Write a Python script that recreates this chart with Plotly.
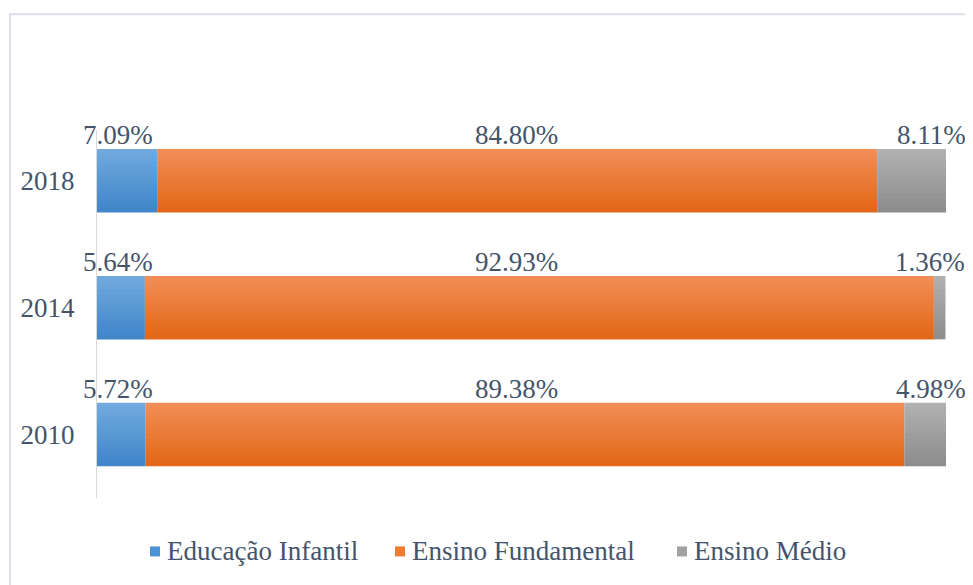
import plotly.graph_objects as go

# ---- data ----
years = ["2010", "2014", "2018"]
educacao_infantil = [5.72, 5.64, 7.09]
ensino_fundamental = [89.38, 92.93, 84.80]
ensino_medio = [4.98, 1.36, 8.11]
series_names = ["Educação Infantil", "Ensino Fundamental", "Ensino Médio"]

# gradient colours (bottom, top)
grad = {
    "Educação Infantil": ((0x40, 0x86, 0xc9), (0x70, 0xa9, 0xde)),
    "Ensino Fundamental": ((0xe2, 0x67, 0x18), (0xf1, 0x8d, 0x55)),
    "Ensino Médio": ((0x8d, 0x8d, 0x8d), (0xb0, 0xb0, 0xb0)),
}
legend_colors = ["#4c93d6", "#ef7b2f", "#a2a2a2"]

TXT = "#44546a"
FONT = "Liberation Serif"
FS = 27

W, H = 965, 577
ML, MR, MT, MB = 89, 27, 122, 86.5
PW, PH = W - ML - MR, H - MT - MB


def px_x(x):  # figure pixel -> paper x
    return (x - ML) / PW


def px_y(y):  # figure pixel -> paper y
    return (H - MB - y) / PH


fig = go.Figure()

values = [educacao_infantil, ensino_fundamental, ensino_medio]
bases = []
cum = [0.0] * len(years)
for vals in values:
    bases.append(list(cum))
    cum = [c + v for c, v in zip(cum, vals)]
totals = cum

N = 14
BW = 0.5
for name, vals, base in zip(series_names, values, bases):
    c0, c1 = grad[name]
    for i in range(N):
        t = i / (N - 1)
        col = "rgb(%d,%d,%d)" % tuple(round(a + (b - a) * t) for a, b in zip(c0, c1))
        w = BW / N + (0.006 if i < N - 1 else 0)
        fig.add_trace(go.Bar(
            y=years, x=vals, base=base, orientation="h",
            width=w, offset=-BW / 2 + i * BW / N,
            marker=dict(color=col, line=dict(width=0)),
            name=name, legendgroup=name, showlegend=False,
            hoverinfo="skip",
        ))

ann = []
for k, y in enumerate(years):
    ann.append(dict(x=0, y=k, text=f"{educacao_infantil[k]:.2f}%",
                    xanchor="left", xshift=-16))
    ann.append(dict(x=min(totals[k], 100) / 2, y=k, text=f"{ensino_fundamental[k]:.2f}%",
                    xanchor="center", xshift=-5))
    ann.append(dict(x=min(totals[k], 100), y=k, text=f"{ensino_medio[k]:.2f}%",
                    xanchor="right", xshift=22))
for a in ann:
    a.update(xref="x", yref="y", yanchor="middle", yshift=46, showarrow=False,
             font=dict(family=FONT, size=FS, color=TXT))

shapes = [dict(type="rect", xref="paper", yref="paper", x0=px_x(2), x1=1.2,
               y0=-0.6, y1=px_y(6), line=dict(color="#dadfe6", width=2),
               fillcolor="rgba(0,0,0,0)", layer="below")]

# legend (drawn manually to match the original spacing)
leg_x = [142, 387, 669]
LEG_Y = 544
for name, col, lx in zip(series_names, legend_colors, leg_x):
    shapes.append(dict(type="rect", xref="paper", yref="paper",
                       x0=px_x(lx), x1=px_x(lx + 10), y0=px_y(LEG_Y + 5), y1=px_y(LEG_Y - 5),
                       fillcolor=col, line=dict(width=0)))
    ann.append(dict(xref="paper", yref="paper", x=px_x(lx + 15), y=px_y(LEG_Y),
                    text=name, xanchor="left", yanchor="middle", showarrow=False,
                    font=dict(family=FONT, size=FS, color=TXT)))

fig.update_layout(
    width=W, height=H,
    margin=dict(l=ML, r=MR, t=MT, b=MB),
    paper_bgcolor="white", plot_bgcolor="white",
    barmode="overlay",
    font=dict(family=FONT, size=FS, color=TXT),
    xaxis=dict(range=[0, 100], visible=False, fixedrange=True),
    yaxis=dict(type="category", categoryorder="array", categoryarray=years,
               range=[-0.5, 2.4], showline=True, linecolor="#d9d9d9", linewidth=1,
               showgrid=False, ticks="", ticklabelstandoff=16, zeroline=False,
               tickfont=dict(family=FONT, size=FS, color=TXT)),
    showlegend=False,
    annotations=ann,
    shapes=shapes,
)

fig.write_html("out.html")
